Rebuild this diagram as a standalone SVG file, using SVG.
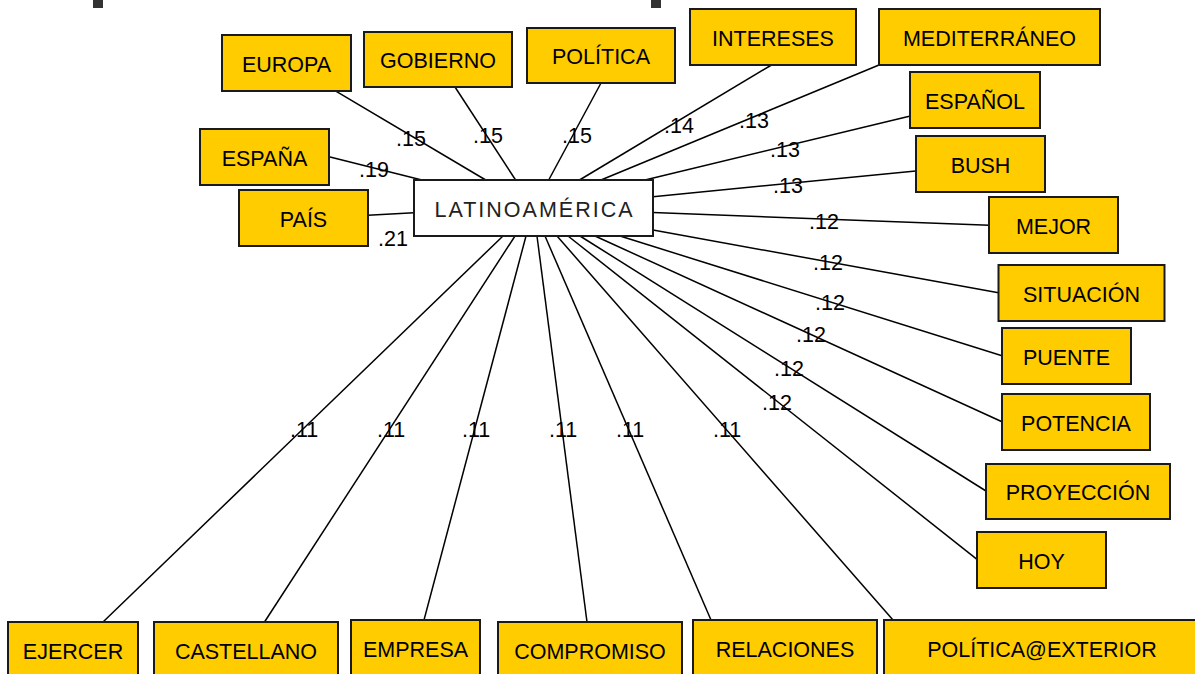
<svg xmlns="http://www.w3.org/2000/svg" width="1195" height="674" viewBox="0 0 1195 674">
<style>
.n rect{fill:#FFCC00;stroke:#1a1a1a;stroke-width:2}
.n text,.lb text{font-family:"Liberation Sans",Arial,sans-serif;font-size:21.5px;fill:#000}
.n text{text-anchor:middle}
#LATINOAMERICA rect{fill:#fff}
#LATINOAMERICA text{fill:#222;letter-spacing:2px}
.c line{stroke:#000;stroke-width:1.5}
</style>
<rect x="93" y="0" width="10" height="8" fill="#333"/>
<rect x="651" y="0" width="10" height="8" fill="#333"/>
<g class="c" id="connectors">
<line x1="485.7" y1="180" x2="335" y2="90.7"/>
<line x1="515.6" y1="180" x2="455" y2="87"/>
<line x1="548.7" y1="180" x2="601" y2="83"/>
<line x1="421.9" y1="180" x2="329" y2="156.7"/>
<line x1="414" y1="212.7" x2="368" y2="215.3"/>
<line x1="579.5" y1="180" x2="771.5" y2="65"/>
<line x1="601" y1="180" x2="879" y2="65"/>
<line x1="645" y1="180" x2="910.4" y2="116"/>
<line x1="653" y1="196.7" x2="915.7" y2="171"/>
<line x1="653" y1="212.5" x2="989.4" y2="225.3"/>
<line x1="653" y1="230" x2="998.5" y2="292.7"/>
<line x1="620" y1="236" x2="1002" y2="355.7"/>
<line x1="595" y1="236" x2="1002" y2="421.7"/>
<line x1="580" y1="236" x2="986" y2="491"/>
<line x1="568" y1="236" x2="977" y2="559.3"/>
<line x1="557" y1="236" x2="893" y2="620"/>
<line x1="545" y1="236" x2="711" y2="620"/>
<line x1="537" y1="236" x2="587" y2="622"/>
<line x1="526" y1="236" x2="424" y2="620"/>
<line x1="515" y1="236" x2="264.5" y2="622"/>
<line x1="503" y1="236" x2="103" y2="622"/>
</g>
<g class="lb" id="labels">
<text x="396" y="146">.15</text>
<text x="473" y="143">.15</text>
<text x="562" y="143">.15</text>
<text x="664" y="133">.14</text>
<text x="359" y="177">.19</text>
<text x="378" y="246">.21</text>
<text x="739" y="128">.13</text>
<text x="770" y="157">.13</text>
<text x="773" y="193">.13</text>
<text x="809" y="229">.12</text>
<text x="813" y="270">.12</text>
<text x="815" y="310">.12</text>
<text x="796" y="342">.12</text>
<text x="774" y="376">.12</text>
<text x="762" y="410">.12</text>
<text x="290" y="437">.11</text>
<text x="377" y="437">.11</text>
<text x="462" y="437">.11</text>
<text x="549" y="437">.11</text>
<text x="616" y="437">.11</text>
<text x="713" y="437">.11</text>
</g>
<g class="n" id="EUROPA"><rect x="222" y="35" width="129" height="56"/><text x="286.5" y="71.5">EUROPA</text></g>
<g class="n" id="GOBIERNO"><rect x="364" y="32" width="148" height="55"/><text x="438" y="68">GOBIERNO</text></g>
<g class="n" id="POLITICA"><rect x="527" y="28" width="148" height="55"/><text x="601" y="64">POLÍTICA</text></g>
<g class="n" id="ESPANA"><rect x="200" y="129" width="129" height="56"/><text x="264.5" y="165.5">ESPAÑA</text></g>
<g class="n" id="PAIS"><rect x="239" y="190" width="129" height="56"/><text x="303.5" y="226.5">PAÍS</text></g>
<g class="n" id="LATINOAMERICA"><rect x="414" y="180" width="239" height="56"/><text x="534.5" y="216.5">LATINOAMÉRICA</text></g>
<g class="n" id="INTERESES"><rect x="690" y="9" width="166" height="56"/><text x="773" y="45.5">INTERESES</text></g>
<g class="n" id="MEDITERRANEO"><rect x="879" y="9" width="221" height="56"/><text x="989.5" y="45.5">MEDITERRÁNEO</text></g>
<g class="n" id="ESPANOL"><rect x="910" y="72" width="130" height="56"/><text x="975" y="108.5">ESPAÑOL</text></g>
<g class="n" id="BUSH"><rect x="916" y="136" width="129" height="56"/><text x="980.5" y="172.5">BUSH</text></g>
<g class="n" id="MEJOR"><rect x="989" y="197" width="129" height="56"/><text x="1053.5" y="233.5">MEJOR</text></g>
<g class="n" id="SITUACION"><rect x="998.5" y="265" width="166" height="56"/><text x="1081.5" y="301.5">SITUACIÓN</text></g>
<g class="n" id="PUENTE"><rect x="1002" y="328" width="129" height="56"/><text x="1066.5" y="364.5">PUENTE</text></g>
<g class="n" id="POTENCIA"><rect x="1002" y="394" width="148" height="56"/><text x="1076" y="430.5">POTENCIA</text></g>
<g class="n" id="PROYECCION"><rect x="986" y="464" width="184" height="55"/><text x="1078" y="500">PROYECCIÓN</text></g>
<g class="n" id="HOY"><rect x="977" y="532" width="129" height="56"/><text x="1041.5" y="568.5">HOY</text></g>
<g class="n" id="EJERCER"><rect x="8" y="622" width="130" height="56"/><text x="73" y="658.5">EJERCER</text></g>
<g class="n" id="CASTELLANO"><rect x="154" y="622" width="184" height="56"/><text x="246" y="658.5">CASTELLANO</text></g>
<g class="n" id="EMPRESA"><rect x="351" y="620" width="129" height="56"/><text x="415.5" y="656.5">EMPRESA</text></g>
<g class="n" id="COMPROMISO"><rect x="498" y="622" width="184" height="56"/><text x="590" y="658.5">COMPROMISO</text></g>
<g class="n" id="RELACIONES"><rect x="693" y="620" width="184" height="56"/><text x="785" y="656.5">RELACIONES</text></g>
<g class="n" id="POLITICA_EXTERIOR"><rect x="884" y="620" width="316" height="56"/><text x="1042" y="656.5">POLÍTICA@EXTERIOR</text></g>
</svg>
